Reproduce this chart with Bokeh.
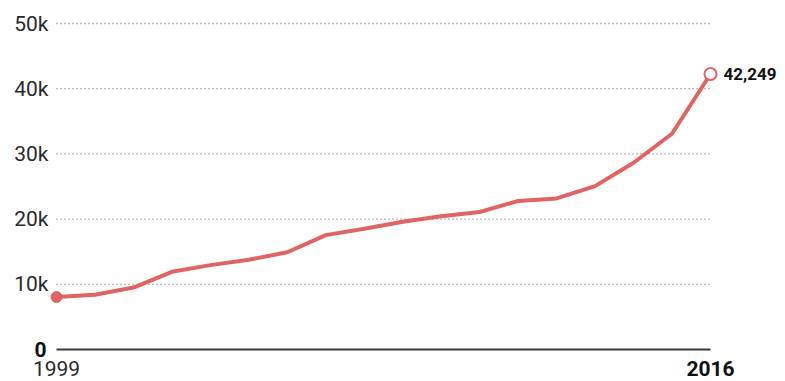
from bokeh.plotting import figure
from bokeh.models import Range1d, ColumnDataSource
from bokeh.core.properties import value
from bokeh.embed import file_html
from bokeh.resources import INLINE

years = list(range(1999, 2017))
deaths = [8050, 8407, 9496, 11920, 12940, 13756, 14918, 17545, 18516,
          19582, 20422, 21089, 22784, 23166, 25052, 28647, 33091, 42249]
grid_values = [10000, 20000, 30000, 40000, 50000]
grid_labels = ["10k", "20k", "30k", "40k", "50k"]
zero_label = "0"
first_year_label = "1999"
last_year_label = "2016"
last_value_label = "42,249"

LINE = "#e06464"
FONT = "Roboto"

p = figure(width=785, height=381, output_backend="svg", toolbar_location=None,
           x_range=Range1d(1997.544, 2017.95), y_range=Range1d(-4908, 53528),
           min_border=0, min_border_left=0, min_border_right=0,
           min_border_top=0, min_border_bottom=0)
p.axis.visible = False
p.grid.visible = False
p.outline_line_color = None
p.background_fill_color = "white"
p.border_fill_color = "white"

# dotted gridlines
p.segment(x0=[years[0]] * len(grid_values), x1=[years[-1]] * len(grid_values),
          y0=grid_values, y1=grid_values,
          line_color="#7a7a7a", line_width=1.3, line_dash="1 3")

# baseline
p.segment(x0=[years[0]], x1=[years[-1]], y0=[0], y1=[0],
          line_color="#3a3a3a", line_width=2)

# y labels
p.text(x=[years[0]] * len(grid_values), y=grid_values, text=grid_labels,
       x_offset=-8, text_align="right", text_baseline="middle",
       text_font=value(FONT), text_font_size="21px", text_color="#2a2a2a")
p.text(x=[years[0]], y=[0], text=[zero_label], x_offset=-10,
       text_align="right", text_baseline="middle",
       text_font=value(FONT), text_font_size="21px", text_font_style="bold",
       text_color="#111111")

# x labels
p.text(x=[years[0]], y=[0], text=[first_year_label], y_offset=11,
       text_align="center", text_baseline="top",
       text_font=value(FONT), text_font_size="21px", text_color="#2a2a2a")
p.text(x=[years[-1]], y=[0], text=[last_year_label], y_offset=11,
       text_align="center", text_baseline="top",
       text_font=value(FONT), text_font_size="21px", text_font_style="bold",
       text_color="#111111")

# data line
src = ColumnDataSource(dict(x=years, y=deaths))
p.line("x", "y", source=src, line_color=LINE, line_width=4, line_join="round")
p.scatter(x=[years[0]], y=[deaths[0]], size=11, fill_color=LINE, line_color=LINE)
p.scatter(x=[years[-1]], y=[deaths[-1]], size=12, fill_color="white",
          line_color=LINE, line_width=2)

p.text(x=[years[-1]], y=[deaths[-1]], text=[last_value_label], x_offset=13,
       text_align="left", text_baseline="middle",
       text_font=value(FONT), text_font_size="17px", text_font_style="bold",
       text_color="#111111")

open("out.html", "w").write(file_html(p, INLINE))
